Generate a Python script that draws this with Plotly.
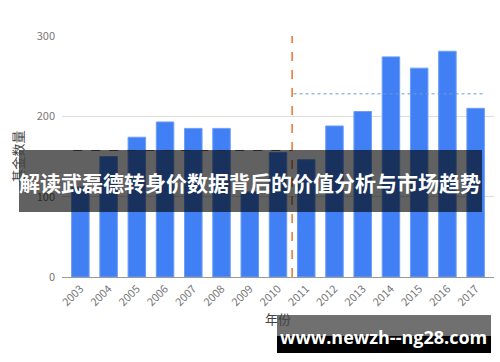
import plotly.graph_objects as go

years = ["2003", "2004", "2005", "2006", "2007", "2008", "2009", "2010",
         "2011", "2012", "2013", "2014", "2015", "2016", "2017"]
funds = [112, 150, 174, 193, 185, 185, 106, 155, 146, 188, 206, 274, 260, 281, 210]
avg_before = 157.5
avg_after = 228
y_ticks = [0, 100, 200, 300]
title_text = "解读武磊德转身价数据背后的价值分析与市场趋势"
watermark = "www.newzh--ng28.com"

fig = go.Figure()
fig.add_trace(go.Bar(
    x=list(range(len(years))), y=funds,
    marker=dict(color="#4080f4", line=dict(color="#6c9ef7", width=1)),
    width=0.62, hoverinfo="skip"
))
# average lines
fig.add_trace(go.Scatter(x=[-0.25, 7.5], y=[avg_before, avg_before], mode="lines",
                         line=dict(color="#666666", width=1, dash="dash"), hoverinfo="skip"))
fig.add_trace(go.Scatter(x=[7.55, 14.3], y=[avg_after, avg_after], mode="lines",
                         line=dict(color="#6a9ad8", width=1, dash="dot"), hoverinfo="skip"))
# vertical split
fig.add_trace(go.Scatter(x=[7.5, 7.5], y=[0, 300], mode="lines",
                         line=dict(color="#e8742a", width=1.5, dash="dash"), hoverinfo="skip"))

fig.update_layout(
    width=500, height=362,
    margin=dict(l=62, r=6, t=36, b=85),
    paper_bgcolor="white", plot_bgcolor="white",
    showlegend=False,
    font=dict(family="Noto Sans CJK SC, Roboto, sans-serif", color="#666666"),
    xaxis=dict(
        range=[-0.65, 14.65],
        tickmode="array", tickvals=list(range(len(years))), ticktext=years,
        tickangle=-45, tickfont=dict(size=11, color="#777777"),
        showgrid=False, zeroline=False,
        showline=True, linecolor="#999999", linewidth=1,
        title=dict(text="年份", font=dict(size=13, color="#444444"), standoff=6),
    ),
    yaxis=dict(
        range=[0, 300], tickvals=y_ticks,
        tickfont=dict(size=11, color="#777777"),
        showgrid=True, gridcolor="#dddddd", zeroline=False,
        ticks="", ticklabelstandoff=6,
        title=dict(text="基金数量", font=dict(size=13, color="#444444"), standoff=10),
    ),
    shapes=[
        # banner
        dict(type="rect", xref="paper", yref="paper",
             x0=(19-62)/432, x1=(482-62)/432,
             y0=(277-212)/241, y1=(277-150)/241,
             fillcolor="rgba(0,0,0,0.62)", line=dict(width=0), layer="above"),
        # watermark boxes
        dict(type="rect", xref="paper", yref="paper",
             x0=(277-62)/432, x1=(491-62)/432,
             y0=(277-336)/241, y1=(277-315)/241,
             fillcolor="rgba(0,0,0,0.56)", line=dict(width=0), layer="above"),
        dict(type="rect", xref="paper", yref="paper",
             x0=(277-62)/432, x1=(491-62)/432,
             y0=(277-353)/241, y1=(277-336)/241,
             fillcolor="#000000", line=dict(width=0), layer="above"),
    ],
    annotations=[
        dict(text="<b>" + title_text + "</b>", xref="paper", yref="paper",
             x=(250-62)/432, y=(277-182)/241, showarrow=False,
             font=dict(size=21, color="white", family="Noto Sans CJK SC"),
             xanchor="center", yanchor="middle"),
        dict(text="<b>" + watermark + "</b>", xref="paper", yref="paper",
             x=(383-62)/432, y=(277-337)/241, showarrow=False,
             font=dict(size=18, color="white", family="Open Sans, DejaVu Sans"),
             xanchor="center", yanchor="middle"),
    ],
)

fig.write_html("out.html")
